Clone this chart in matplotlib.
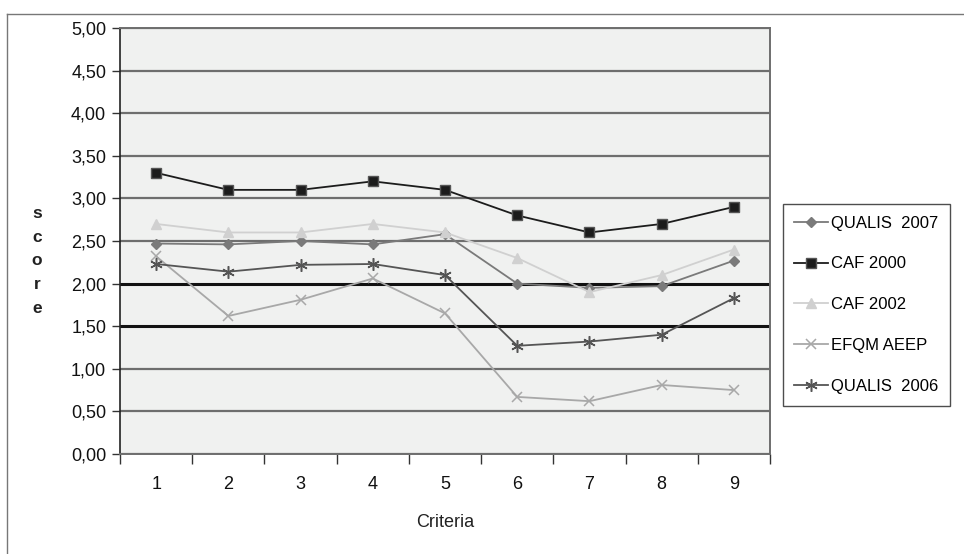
import matplotlib.pyplot as plt
from matplotlib.lines import Line2D
from matplotlib.ticker import FixedLocator, FuncFormatter

plt.rcParams['font.family'] = ['Liberation Sans', 'DejaVu Sans']

criteria = [1, 2, 3, 4, 5, 6, 7, 8, 9]
qualis_2007 = [2.47, 2.46, 2.50, 2.46, 2.58, 2.00, 1.95, 1.97, 2.27]
caf_2000 = [3.30, 3.10, 3.10, 3.20, 3.10, 2.80, 2.60, 2.70, 2.90]
caf_2002 = [2.70, 2.60, 2.60, 2.70, 2.60, 2.30, 1.90, 2.10, 2.40]
efqm_aeep = [2.32, 1.62, 1.81, 2.06, 1.65, 0.67, 0.62, 0.81, 0.75]
qualis_2006 = [2.23, 2.14, 2.22, 2.23, 2.10, 1.27, 1.32, 1.40, 1.83]
y_ticks = [0, 0.5, 1, 1.5, 2, 2.5, 3, 3.5, 4, 4.5, 5]

fig = plt.figure(figsize=(9.64, 5.54), dpi=100)
ax = fig.add_axes([0.1245, 0.1805, 0.6743, 0.769])
ax.set_facecolor('#f0f1f0')

# outer frame of the picture
fig.add_artist(Line2D([0.007, 1.0], [0.975, 0.975], transform=fig.transFigure, color='#777777', lw=1))
fig.add_artist(Line2D([0.007, 0.007], [0.0, 0.975], transform=fig.transFigure, color='#777777', lw=1))

# horizontal grid, 1,50 and 2,00 drawn heavier
for y in y_ticks:
    if y in (1.5, 2.0):
        ax.axhline(y, color='#111111', lw=2.2, zorder=1)
    else:
        ax.axhline(y, color='#6e6e6e', lw=1.6, zorder=1)

ax.plot(criteria, qualis_2007, color='#7a7a7a', lw=1.3, marker='D', ms=5.5,
        mfc='#7a7a7a', mec='#7a7a7a', label='QUALIS  2007', zorder=3)
ax.plot(criteria, caf_2000, color='#1c1c1c', lw=1.3, marker='s', ms=7.5,
        mfc='#1c1c1c', mec='#555555', label='CAF 2000', zorder=3)
ax.plot(criteria, caf_2002, color='#d0d0d0', lw=1.3, marker='^', ms=7.5,
        mfc='#d0d0d0', mec='#d0d0d0', label='CAF 2002', zorder=3)
ax.plot(criteria, efqm_aeep, color='#a8a8a8', lw=1.3, marker='x', ms=7, mew=1.1,
        label='EFQM AEEP', zorder=3)
ax.plot(criteria, qualis_2006, color='#555555', lw=1.3, marker=(6, 2, 0), ms=9, mew=1.1,
        label='QUALIS  2006', zorder=3)

ax.set_xlim(0.5, 9.5)
ax.set_ylim(0, 5)
ax.set_yticks(y_ticks)
ax.yaxis.set_major_formatter(FuncFormatter(lambda v, p: f'{v:.2f}'.replace('.', ',')))
ax.tick_params(axis='y', direction='out', length=6, width=1, color='#333333',
               labelsize=13, pad=4, labelcolor='#111111')

ax.xaxis.set_major_locator(FixedLocator([i + 0.5 for i in range(0, 10)]))
ax.xaxis.set_minor_locator(FixedLocator(criteria))
ax.xaxis.set_major_formatter(FuncFormatter(lambda v, p: ''))
ax.xaxis.set_minor_formatter(FuncFormatter(lambda v, p: str(int(v))))
ax.tick_params(axis='x', which='major', direction='out', length=7, width=1, color='#333333')
ax.tick_params(axis='x', which='minor', length=0, labelsize=13, pad=16, labelcolor='#111111')

for side in ('top', 'right', 'bottom'):
    ax.spines[side].set_color('#6e6e6e')
    ax.spines[side].set_linewidth(1.4)
ax.spines['left'].set_color('#222222')
ax.spines['left'].set_linewidth(1.2)

ax.set_xlabel('Criteria', fontsize=13, labelpad=15, color='#222222')
fig.text(0.0385, 0.529, 's\nc\no\nr\ne', fontsize=12.5, fontweight='bold',
         ha='center', va='center', linespacing=1.72, color='#222222')

leg = ax.legend(loc='upper left', bbox_to_anchor=(0.812, 0.632),
                bbox_transform=fig.transFigure, fontsize=12, frameon=True,
                fancybox=False, edgecolor='#222222', handlelength=2.0,
                labelspacing=1.55, borderpad=0.7, handletextpad=0.2,
                borderaxespad=0)
leg.get_frame().set_linewidth(1.0)
leg.get_frame().set_facecolor('white')

fig.savefig('out.png', dpi=100)
